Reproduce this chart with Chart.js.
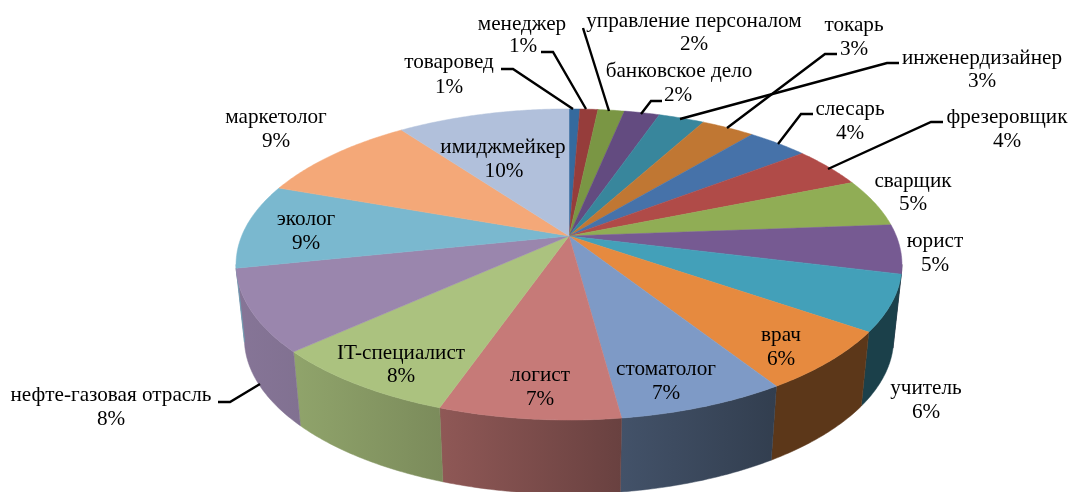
<!DOCTYPE html>
<html lang="ru">
<head>
<meta charset="utf-8">
<title>Профессии</title>
<script src="https://cdn.jsdelivr.net/npm/chart.js@4/dist/chart.umd.js"></script>
<style>
  html, body { margin: 0; padding: 0; background: #fff; }
  canvas { display: block; }
</style>
</head>
<body>
<canvas id="pie" width="1068" height="492"></canvas>
<script>
const professions = ['товаровед', 'менеджер', 'управление персоналом', 'банковское дело', 'инженердизайнер', 'токарь', 'слесарь', 'фрезеровщик', 'сварщик', 'юрист', 'учитель', 'врач', 'стоматолог', 'логист', 'IT-специалист', 'нефте-газовая отрасль', 'эколог', 'маркетолог', 'имиджмейкер'];
// slice sizes, the printed percents are rounded
const shares = [0.63, 1.04, 1.53, 2.05, 2.65, 3.1, 3.55, 4.25, 5, 5.1, 5.8, 6.3, 6.9, 7.4, 7.9, 8.5, 8.8, 9.5, 10];
const percentLabels = ['1%', '1%', '2%', '2%', '3%', '3%', '4%', '4%', '5%', '5%', '6%', '6%', '7%', '7%', '8%', '8%', '9%', '9%', '10%'];
const sliceColors = ['#356a9e', '#963d3b', '#7a9644', '#634b80', '#38869c', '#c07733', '#4672a9', '#b04b48', '#90ad55', '#765a92', '#43a0b9', '#e68a3f', '#7e9ac6', '#c67a78', '#abc27f', '#9a86ad', '#7ab8cf', '#f4a878', '#b1c0db'];

// how dark the side wall gets along x
const wallShadeX = [240, 300, 440, 622, 770, 900];
const wallShade = [0.87, 0.84, 0.72, 0.53, 0.40, 0.40];

// text centres: [name x, name y, percent x, percent y]
const labelSpots = [
  [449, 62, 449, 87], [522, 24, 523, 46], [694, 21, 694, 44], [679, 71, 678, 95],
  [982, 58, 982, 81], [854, 25, 854, 49], [850, 109, 850, 133], [1007, 117, 1007, 141],
  [913, 181, 913, 204], [935, 241, 935, 265], [926, 388, 926, 412], [781, 335, 781, 359],
  [666, 369, 666, 393], [540, 375, 540, 399], [401, 353, 401, 376], [111, 395, 111, 419],
  [306, 219, 306, 243], [276, 117, 276, 141], [503, 147, 504, 171],
];

// leader lines, from the label to the rim
const leaderLines = [
  [[501, 69], [513, 69], [573, 109]],
  [[541, 52], [553, 52], [586, 109]],
  [[583, 28], [609, 111]],
  [[662, 101], [651, 101], [641, 114]],
  [[899, 63], [887, 63], [680, 119]],
  [[837, 54], [825, 54], [727, 128]],
  [[813, 114], [801, 114], [778, 144]],
  [[943, 122], [931, 122], [828, 169]],
  [[218, 402], [230, 402], [260, 384]],
];

// perspective of the tilted disc, relative to the pie radius
const tilt = 0.183;
const stretchX = 1.387;
const stretchY = 0.637;
const wallDrop = 74;
const wallNarrow = 0.975;

function project(arc, angle) {
  const u = Math.sin(angle);
  const v = Math.cos(angle);
  const w = 1 + tilt * v;
  return {
    x: arc.x + arc.outerRadius * stretchX * u / w,
    y: arc.y - arc.outerRadius * stretchY * v / w,
  };
}

function projectBottom(arc, angle) {
  const p = project(arc, angle);
  return { x: arc.x + (p.x - arc.x) * wallNarrow, y: p.y + wallDrop };
}

function anglesBetween(from, to) {
  const steps = Math.max(2, Math.ceil((to - from) / 0.01));
  const list = [];
  for (let i = 0; i <= steps; i++) list.push(from + (to - from) * i / steps);
  return list;
}

function shadeAt(x) {
  if (x <= wallShadeX[0]) return wallShade[0];
  for (let i = 1; i < wallShadeX.length; i++) {
    if (x <= wallShadeX[i]) {
      const t = (x - wallShadeX[i - 1]) / (wallShadeX[i] - wallShadeX[i - 1]);
      return wallShade[i - 1] + (wallShade[i] - wallShade[i - 1]) * t;
    }
  }
  return wallShade[wallShade.length - 1];
}

function darken(hex, k) {
  const n = parseInt(hex.slice(1), 16);
  const r = Math.round((n >> 16) * k);
  const g = Math.round(((n >> 8) & 255) * k);
  const b = Math.round((n & 255) * k);
  return `rgb(${r}, ${g}, ${b})`;
}

function drawWall(ctx, arc, color) {
  const limit = Math.acos(-tilt);
  const from = Math.max(arc.startAngle + Math.PI / 2, limit);
  const to = Math.min(arc.endAngle + Math.PI / 2, 2 * Math.PI - limit);
  if (to <= from) return;

  const angles = anglesBetween(from, to);
  const top = angles.map(a => project(arc, a));
  const bottom = angles.map(a => projectBottom(arc, a)).reverse();
  const points = top.concat(bottom);
  const xs = points.map(p => p.x);
  const x0 = Math.min(...xs);
  const x1 = Math.max(...xs);

  const gradient = ctx.createLinearGradient(x0, 0, x1, 0);
  gradient.addColorStop(0, darken(color, shadeAt(x0)));
  gradient.addColorStop(1, darken(color, shadeAt(x1)));

  ctx.beginPath();
  points.forEach((p, i) => (i ? ctx.lineTo(p.x, p.y) : ctx.moveTo(p.x, p.y)));
  ctx.closePath();
  ctx.fillStyle = gradient;
  ctx.strokeStyle = gradient;
  ctx.lineWidth = 0.5;
  ctx.fill();
  ctx.stroke();
}

function drawTop(ctx, arc, color) {
  const angles = anglesBetween(arc.startAngle + Math.PI / 2, arc.endAngle + Math.PI / 2);
  ctx.beginPath();
  ctx.moveTo(arc.x, arc.y);
  angles.forEach(a => {
    const p = project(arc, a);
    ctx.lineTo(p.x, p.y);
  });
  ctx.closePath();
  ctx.fillStyle = color;
  ctx.strokeStyle = color;
  ctx.lineWidth = 0.5;
  ctx.fill();
  ctx.stroke();
}

// the library lays the slices out, this only bends them into the tilted disc
const tiltedPie = {
  id: 'tiltedPie',
  beforeDatasetDraw(chart, args) {
    const ctx = chart.ctx;
    const arcs = args.meta.data;
    ctx.save();
    arcs.forEach((arc, i) => drawWall(ctx, arc, sliceColors[i]));
    arcs.forEach((arc, i) => drawTop(ctx, arc, sliceColors[i]));
    ctx.restore();
    return false;
  },
  afterDatasetsDraw(chart) {
    const ctx = chart.ctx;
    ctx.save();
    ctx.strokeStyle = '#000';
    ctx.lineWidth = 2.4;
    leaderLines.forEach(line => {
      ctx.beginPath();
      line.forEach((p, i) => (i ? ctx.lineTo(p[0], p[1]) : ctx.moveTo(p[0], p[1])));
      ctx.stroke();
    });

    ctx.fillStyle = '#000';
    ctx.font = '21.2px "Liberation Serif"';
    ctx.textAlign = 'center';
    ctx.textBaseline = 'middle';
    professions.forEach((name, i) => {
      const spot = labelSpots[i];
      ctx.fillText(name, spot[0], spot[1]);
      ctx.fillText(percentLabels[i], spot[2], spot[3]);
    });
    ctx.restore();
  },
};

new Chart(document.getElementById('pie'), {
  type: 'pie',
  data: {
    labels: professions,
    datasets: [{ data: shares, backgroundColor: sliceColors, borderWidth: 0 }],
  },
  options: {
    responsive: false,
    animation: false,
    layout: { padding: { left: 70, bottom: 20 } },
    plugins: { legend: { display: false }, tooltip: { enabled: false } },
  },
  plugins: [tiltedPie],
});
</script>
</body>
</html>
